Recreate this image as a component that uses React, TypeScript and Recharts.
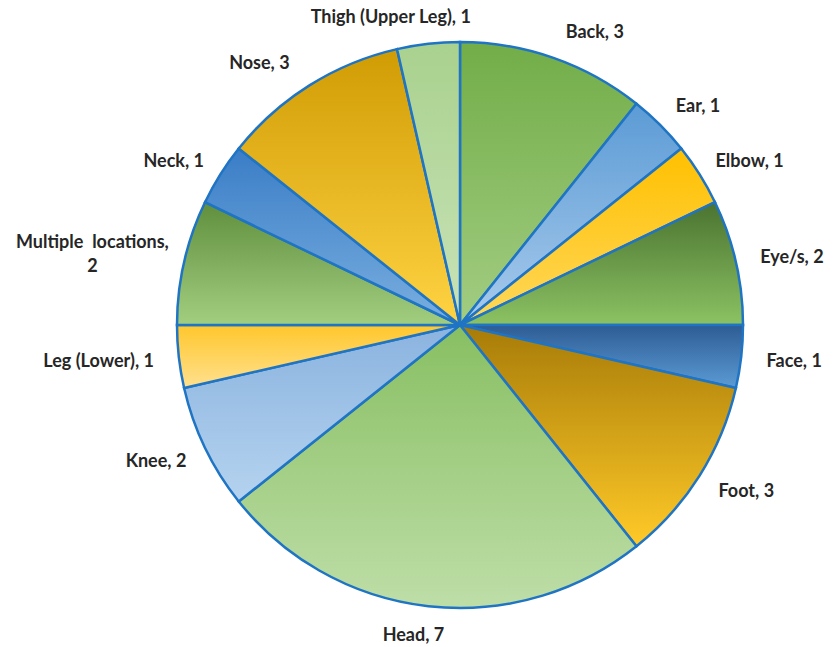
import { PieChart, Pie, Cell } from 'recharts'

// 受伤部位统计
const names = [
  'Back',
  'Ear',
  'Elbow',
  'Eye/s',
  'Face',
  'Foot',
  'Head',
  'Knee',
  'Leg (Lower)',
  'Multiple  locations',
  'Neck',
  'Nose',
  'Thigh (Upper Leg)',
]
const counts = [3, 1, 1, 2, 1, 3, 7, 2, 1, 2, 1, 3, 1]

// gradient top / bottom colours, one per slice
const topColors = [
  '#72ad48', '#5b9bd5', '#ffc000', '#4a7330', '#2e5c94', '#a77b08', '#88bf62',
  '#8ab3df', '#ffc72c', '#5f8f3d', '#3a7dc6', '#d09c04', '#a9d18e',
]
const bottomColors = [
  '#a2cd82', '#a9cbec', '#ffd85c', '#8cc263', '#5b9bd5', '#ffca28', '#bedea8',
  '#b5d3ef', '#ffe08e', '#a2ce80', '#7aafe0', '#ffd343', '#c9e3b8',
]

const data = names.map((name, i) => ({ name, value: counts[i] }))

const CX = 460
const CY = 325
const R = 283
const RAD = Math.PI / 180

function splitLabel(text: string) {
  if (text.length <= 21) return [text]
  const cut = text.lastIndexOf(' ')
  return [text.slice(0, cut), text.slice(cut + 1)]
}

function renderLabel(props: any) {
  const { midAngle, name, value } = props
  const lines = splitLabel(`${name}, ${value}`)
  const longest = Math.max(...lines.map(l => l.length))
  const w = longest * 7.8
  const lineH = 24
  const h = lines.length * lineH
  const cos = Math.cos(-midAngle * RAD)
  const sin = Math.sin(-midAngle * RAD)
  const r0 = R + 16
  const side = cos >= 0 ? 1 : -1
  // 顶部标签向两侧散开，避免重叠
  let dx = lines.length > 1 ? 0 : side * 10
  if (sin < -0.8) dx += side * 17
  const x = CX + r0 * cos + (cos * w) / 2 + dx
  const y = CY + r0 * sin + (sin * h) / 2
  const y0 = y - h / 2 + lineH / 2
  return (
    <text
      x={x}
      y={y0}
      textAnchor="middle"
      dominantBaseline="central"
      fill="#262626"
      fontSize={18}
      fontWeight="bold"
      fontFamily="Lato, 'Open Sans', sans-serif"
      style={{ whiteSpace: 'pre' }}
    >
      {lines.map((l, i) => (
        <tspan key={i} x={x} dy={i === 0 ? 0 : lineH}>
          {l}
        </tspan>
      ))}
    </text>
  )
}

export default function App() {
  return (
    <div style={{ position: 'absolute', left: 0, top: 0, background: '#fff' }}>
      <PieChart width={834} height={647} margin={{ top: 0, right: 0, bottom: 0, left: 0 }}>
        <defs>
          {topColors.map((c, i) => (
            <linearGradient key={i} id={`slice${i}`} x1="0" y1="0" x2="0" y2="1">
              <stop offset="0%" stopColor={c} />
              <stop offset="100%" stopColor={bottomColors[i]} />
            </linearGradient>
          ))}
        </defs>
        <Pie
          data={data}
          dataKey="value"
          nameKey="name"
          cx={CX}
          cy={CY}
          outerRadius={R}
          startAngle={90}
          endAngle={-270}
          stroke="#1f74c4"
          strokeWidth={2.5}
          label={renderLabel}
          labelLine={false}
          isAnimationActive={false}
        >
          {data.map((d, i) => (
            <Cell key={d.name} fill={`url(#slice${i})`} />
          ))}
        </Pie>
      </PieChart>
    </div>
  )
}
